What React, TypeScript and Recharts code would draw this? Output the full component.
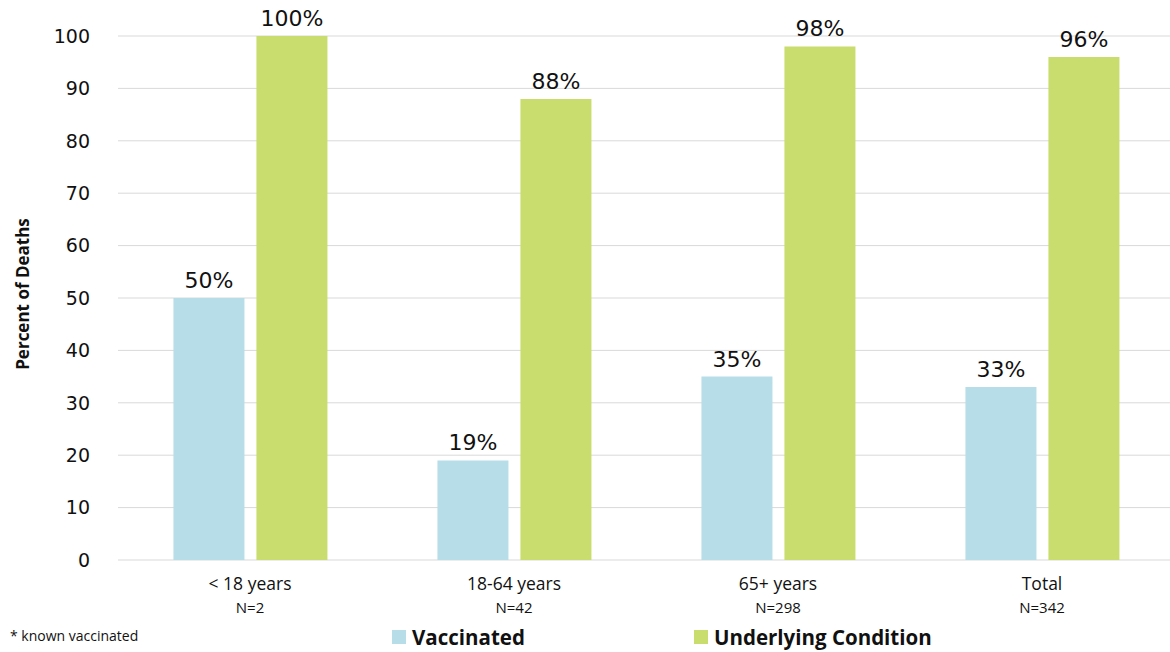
import React from "react";
import {
  Bar,
  BarChart,
  CartesianGrid,
  LabelList,
  Legend,
  XAxis,
  YAxis,
} from "recharts";

const ageGroups = ["< 18 years", "18-64 years", "65+ years", "Total"];
const groupSizes = ["N=2", "N=42", "N=298", "N=342"];
const vaccinated = [50, 19, 35, 33];
const underlyingCondition = [100, 88, 98, 96];
const yTicks = [0, 10, 20, 30, 40, 50, 60, 70, 80, 90, 100];

const data = ageGroups.map((group, i) => ({
  group,
  n: groupSizes[i],
  vaccinated: vaccinated[i],
  underlying: underlyingCondition[i],
}));

const BLUE = "#b7dde8";
const GREEN = "#c9dc6e";

const CategoryTick = ({ x, y, payload, index }: any) => (
  <g transform={`translate(${x},${y})`}>
    <text
      y={22}
      textAnchor="middle"
      fontSize={17.5}
      fontFamily="Open Sans"
      fill="#111"
    >
      {payload.value}
    </text>
    <text
      y={45}
      textAnchor="middle"
      fontSize={15}
      fontFamily="Open Sans"
      fill="#111"
    >
      {groupSizes[index]}
    </text>
  </g>
);

const legendItem: React.CSSProperties = {
  position: "absolute",
  top: 0,
  fontSize: 20.5,
  fontWeight: 700,
  display: "flex",
  alignItems: "center",
  whiteSpace: "nowrap",
};

const swatch = (color: string): React.CSSProperties => ({
  width: 14,
  height: 14,
  background: color,
  marginRight: 6,
  display: "inline-block",
});

const LegendBox = () => (
  <div
    style={{
      position: "relative",
      height: 30,
      fontFamily: "Open Sans",
      color: "#111",
    }}
  >
    <span style={{ position: "absolute", left: 10, top: 3, fontSize: 14 }}>
      * known vaccinated
    </span>
    <span style={{ ...legendItem, left: 392 }}>
      <span style={swatch(BLUE)} />
      Vaccinated
    </span>
    <span style={{ ...legendItem, left: 694 }}>
      <span style={swatch(GREEN)} />
      Underlying Condition
    </span>
  </div>
);

export default function App() {
  return (
    <div style={{ position: "absolute", left: 0, top: 0, background: "#fff" }}>
      <BarChart
        width={1170}
        height={652}
        data={data}
        margin={{ top: 36, right: -4, left: 48, bottom: 2 }}
        barCategoryGap="21%"
        barGap={12}
      >
        <CartesianGrid vertical={false} stroke="#d9d9d9" />
        <XAxis
          dataKey="group"
          axisLine={false}
          tickLine={false}
          tick={<CategoryTick />}
          interval={0}
          height={60}
        />
        <YAxis
          domain={[0, 100]}
          ticks={yTicks}
          axisLine={false}
          tickLine={false}
          width={70}
          tickMargin={22}
          tick={{ fontSize: 19, fill: "#111", fontFamily: "DejaVu Sans" }}
          label={{
            value: "Percent of Deaths",
            angle: -90,
            position: "insideLeft",
            dx: -30,
            dy: -4,
            style: {
              fontSize: 17,
              fontWeight: 700,
              fontFamily: "Open Sans",
              fill: "#111",
              textAnchor: "middle",
            },
          }}
        />
        <Legend
          verticalAlign="bottom"
          content={<LegendBox />}
          wrapperStyle={{ left: 0, bottom: -1, width: 1170 }}
        />
        <Bar dataKey="vaccinated" fill={BLUE} isAnimationActive={false}>
          <LabelList
            dataKey="vaccinated"
            position="top"
            offset={10}
            formatter={(v: any) => `${v}%`}
            style={{ fontSize: 22, fill: "#111", fontFamily: "DejaVu Sans" }}
          />
        </Bar>
        <Bar dataKey="underlying" fill={GREEN} isAnimationActive={false}>
          <LabelList
            dataKey="underlying"
            position="top"
            offset={10}
            formatter={(v: any) => `${v}%`}
            style={{ fontSize: 22, fill: "#111", fontFamily: "DejaVu Sans" }}
          />
        </Bar>
      </BarChart>
    </div>
  );
}
